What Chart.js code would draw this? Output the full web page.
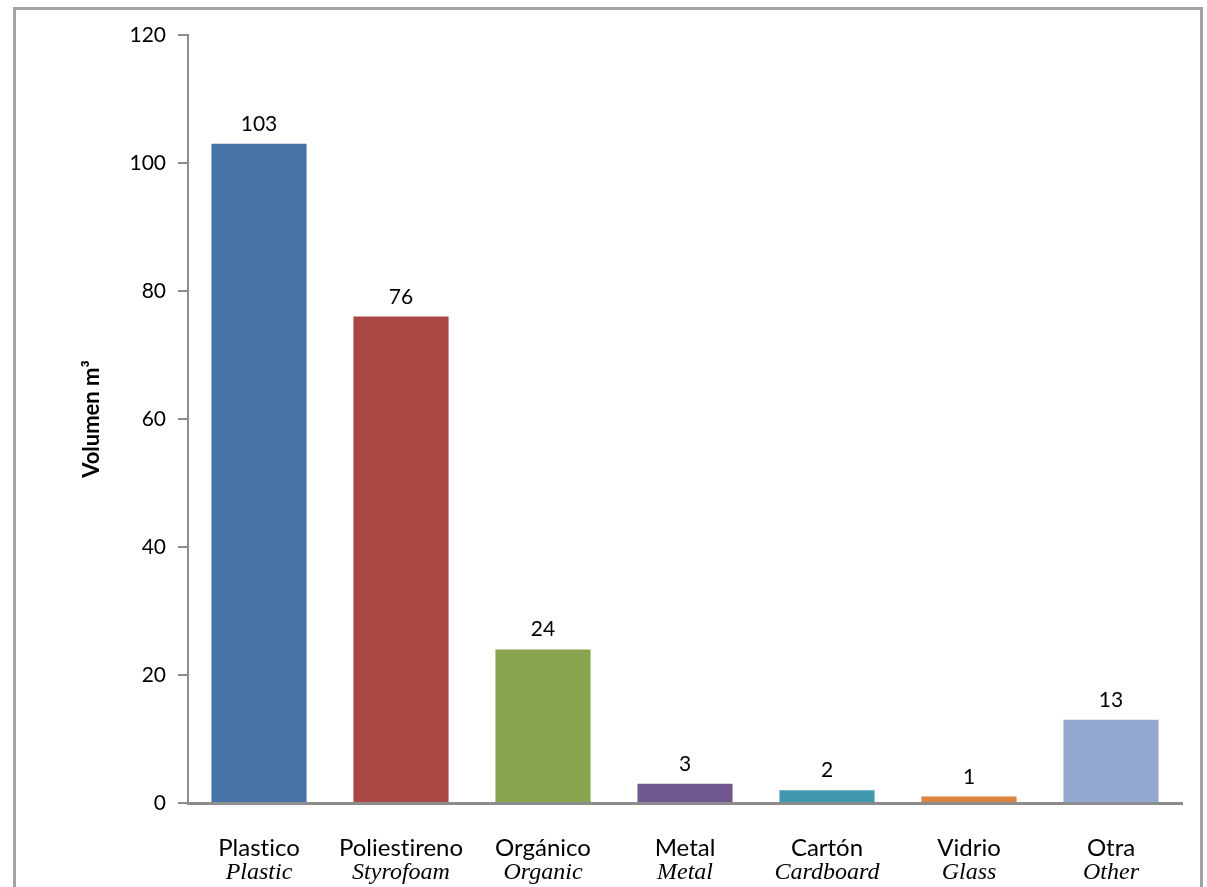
<!DOCTYPE html>
<html>
<head>
<meta charset="utf-8">
<title>Volumen por tipo de residuo</title>
<script src="https://cdn.jsdelivr.net/npm/chart.js@4/dist/chart.umd.min.js"></script>
<style>
  html, body { margin: 0; padding: 0; background: #ffffff; }
  #wrap { width: 1207px; height: 887px; position: relative; }
</style>
</head>
<body>
<div id="wrap"><canvas id="chart" width="1207" height="887"></canvas></div>
<script>
// Waste categories (Spanish label + English translation)
const categories = ['Plastico', 'Poliestireno', 'Orgánico', 'Metal', 'Cartón', 'Vidrio', 'Otra'];
const categoriesEn = ['Plastic', 'Styrofoam', 'Organic', 'Metal', 'Cardboard', 'Glass', 'Other'];
// Volume in cubic metres
const volumes = [103, 76, 24, 3, 2, 1, 13];
const barColors = ['#4572A7', '#AA4643', '#89A54E', '#71588F', '#4198AF', '#DB843D', '#93A9CF'];
const yTickValues = [0, 20, 40, 60, 80, 100, 120];

const sansFont = 'Lato, "Open Sans", "Liberation Sans", sans-serif';
const serifFont = '"Liberation Serif", "DejaVu Serif", serif';
const axisGray = '#8c8c8c';

// Outer frame around the whole figure
const framePlugin = {
  id: 'frame',
  beforeDraw(chart) {
    const ctx = chart.ctx;
    ctx.save();
    ctx.strokeStyle = '#a3a3a3';
    ctx.lineWidth = 3;
    ctx.strokeRect(14.5, 8.5, 1187, 900);
    ctx.restore();
  }
};

// Value labels above each bar, two-line category labels below the axis
const labelPlugin = {
  id: 'labels',
  afterDatasetsDraw(chart) {
    const ctx = chart.ctx;
    const meta = chart.getDatasetMeta(0);
    const xScale = chart.scales.x;
    ctx.save();
    if ('textRendering' in ctx) ctx.textRendering = 'optimizeSpeed';
    ctx.fillStyle = '#000000';
    ctx.textAlign = 'center';
    ctx.textBaseline = 'alphabetic';
    ctx.font = '21px ' + sansFont;
    meta.data.forEach((bar, i) => {
      ctx.fillText(String(volumes[i]), bar.x, bar.y - 13);
    });
    categories.forEach((name, i) => {
      const x = xScale.getPixelForValue(i);
      ctx.font = '24px ' + sansFont;
      ctx.textBaseline = 'middle';
      ctx.fillText(name, x, xScale.bottom - 39);
      ctx.font = 'italic 24px ' + serifFont;
      ctx.fillText(categoriesEn[i], x, xScale.bottom - 14);
    });
    ctx.restore();
  }
};

new Chart(document.getElementById('chart'), {
  type: 'bar',
  data: {
    labels: categories,
    datasets: [{
      data: volumes,
      backgroundColor: barColors,
      borderWidth: 0,
      barPercentage: 0.67,
      categoryPercentage: 1.0
    }]
  },
  options: {
    responsive: false,
    animation: false,
    layout: { padding: { left: 0, top: 35, right: 25, bottom: 0 } },
    plugins: {
      legend: { display: false },
      tooltip: { enabled: false }
    },
    scales: {
      x: {
        grid: { display: false, drawTicks: false },
        border: { display: true, color: axisGray, width: 3 },
        ticks: { display: false },
        afterFit(scale) { scale.height = 84; }
      },
      y: {
        min: 0,
        max: 120,
        afterBuildTicks(scale) { scale.ticks = yTickValues.map(v => ({ value: v })); },
        grid: { display: true, drawOnChartArea: false, drawTicks: true, tickLength: 10, color: axisGray, lineWidth: 2 },
        border: { display: true, color: axisGray, width: 2 },
        ticks: { color: '#000000', padding: 12, font: { family: sansFont, size: 21 } },
        title: {
          display: true,
          text: 'Volumen m³',
          color: '#000000',
          font: { family: sansFont, size: 22, weight: 'bold' },
          padding: { top: 79, bottom: 0 }
        },
        afterFit(scale) { scale.width = 188; }
      }
    }
  },
  plugins: [framePlugin, labelPlugin]
});
</script>
</body>
</html>
